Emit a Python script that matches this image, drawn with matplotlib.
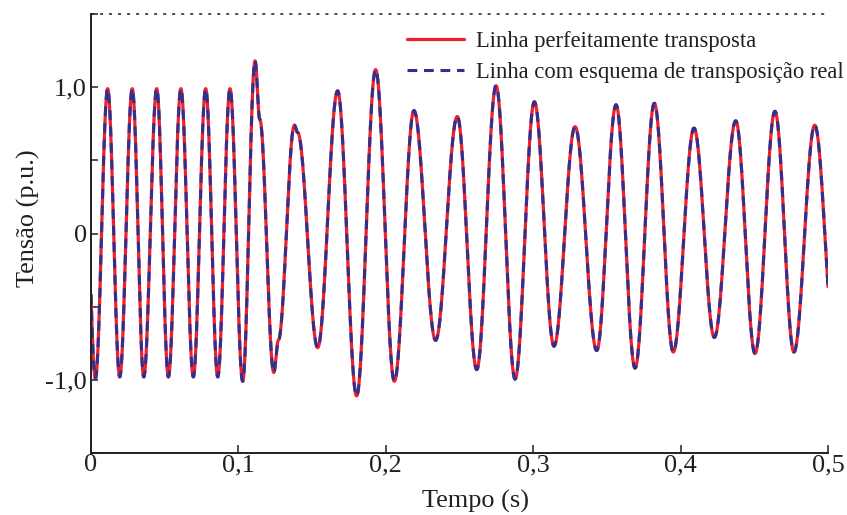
import numpy as np
import matplotlib
matplotlib.use("Agg")
import matplotlib.pyplot as plt

# Successive extrema / knee points of the phase voltage (time in s, voltage in p.u.)
peak_times = [-0.0053, 0.0030, 0.0113, 0.0195, 0.0280, 0.0358, 0.0446, 0.0525,
              0.0610, 0.0694, 0.0778, 0.0860, 0.0943, 0.1029, 0.1113, 0.1145,
              0.1240, 0.1271, 0.1380, 0.1402, 0.1538, 0.1673, 0.1802, 0.1931,
              0.2058, 0.2191, 0.2338, 0.2485, 0.2617, 0.2748, 0.2877, 0.3008,
              0.3141, 0.3284, 0.3431, 0.3562, 0.3691, 0.3822, 0.3950, 0.4091,
              0.4229, 0.4374, 0.4505, 0.4640, 0.4769, 0.4910, 0.5050]
peak_values = [0.99, -0.99, 0.99, -0.98, 0.99, -0.98, 0.99, -0.98,
               0.99, -0.98, 0.99, -0.98, 0.99, -1.01, 1.18, 0.78,
               -0.95, -0.73, 0.74, 0.69, -0.78, 0.975, -1.11, 1.12,
               -1.01, 0.84, -0.73, 0.80, -0.93, 1.01, -0.995, 0.90,
               -0.77, 0.73, -0.80, 0.88, -0.92, 0.89, -0.81, 0.72,
               -0.71, 0.77, -0.82, 0.835, -0.81, 0.74, -0.80]

# The real transposition scheme gives practically the same waveform
real_times = list(peak_times)
real_values = list(peak_values)

xticks = [0.0, 0.1, 0.2, 0.3, 0.4, 0.5]
xtick_labels = ["0", "0,1", "0,2", "0,3", "0,4", "0,5"]
yticks = [-1.5, -1.0, -0.5, 0.0, 0.5, 1.0, 1.5]
ytick_labels = ["", "-1,0", "", "0", "", "1,0", ""]

labels = ["Linha perfeitamente transposta",
          "Linha com esquema de transposição real"]


def waveform(knot_t, knot_v, t):
    """Smooth half-cosine transitions between consecutive extrema."""
    knot_t = np.asarray(knot_t)
    knot_v = np.asarray(knot_v)
    idx = np.clip(np.searchsorted(knot_t, t) - 1, 0, len(knot_t) - 2)
    t0, t1 = knot_t[idx], knot_t[idx + 1]
    v0, v1 = knot_v[idx], knot_v[idx + 1]
    s = (t - t0) / (t1 - t0)
    return v0 + (v1 - v0) * (1 - np.cos(np.pi * s)) / 2


t = np.linspace(0.0, 0.5, 4000)
v_ideal = waveform(peak_times, peak_values, t)
v_real = waveform(real_times, real_values, t)

plt.rcParams["font.family"] = ["Liberation Serif", "DejaVu Serif"]
ink = "#231f20"

W, H = 847, 515
fig = plt.figure(figsize=(W / 100, H / 100), dpi=100)
ax = fig.add_axes([91 / W, 1 - 453 / H, (828 - 91) / W, (453 - 14) / H])

red = "#f0202a"
blue = "#2e3192"
ax.plot(t, v_ideal, color=red, lw=2.3, solid_capstyle="round", label=labels[0])
ax.plot(t, v_real, color=blue, lw=2.2, dashes=(3.2, 2.2), label=labels[1])

ax.set_xlim(0, 0.5)
ax.set_ylim(-1.5, 1.5)

ax.set_xticks(xticks)
ax.set_xticklabels(xtick_labels)
ax.set_yticks(yticks)
ax.set_yticklabels(ytick_labels)
ax.tick_params(axis="both", direction="in", colors=ink, labelsize=18.9, width=1.1)
ax.tick_params(axis="x", length=6, pad=1.0)
ax.tick_params(axis="y", length=5, pad=2.9)

for side in ("left", "bottom"):
    ax.spines[side].set_linewidth(1.4)
    ax.spines[side].set_color(ink)
ax.spines["right"].set_visible(False)
ax.spines["top"].set_visible(False)
ax.axhline(1.5, color=ink, lw=1.1, dashes=(2.0, 3.9), clip_on=False)

leg = ax.legend(loc="upper left", bbox_to_anchor=(407 / W, 1 - 31 / H),
                bbox_transform=fig.transFigure, frameon=False, fontsize=16.3,
                handlelength=2.5, handletextpad=0.55, labelspacing=0.42,
                borderpad=0, borderaxespad=0)
for txt in leg.get_texts():
    txt.set_color(ink)

fig.text(475 / W, 1 - 508 / H, "Tempo (s)", ha="center", va="baseline",
         fontsize=18.9, color=ink)
fig.text(28 / W, 1 - 218 / H, "Tensão (p.u.)", ha="center", va="center",
         rotation=90, fontsize=18.9, color=ink)

fig.savefig("out.png", dpi=100)
